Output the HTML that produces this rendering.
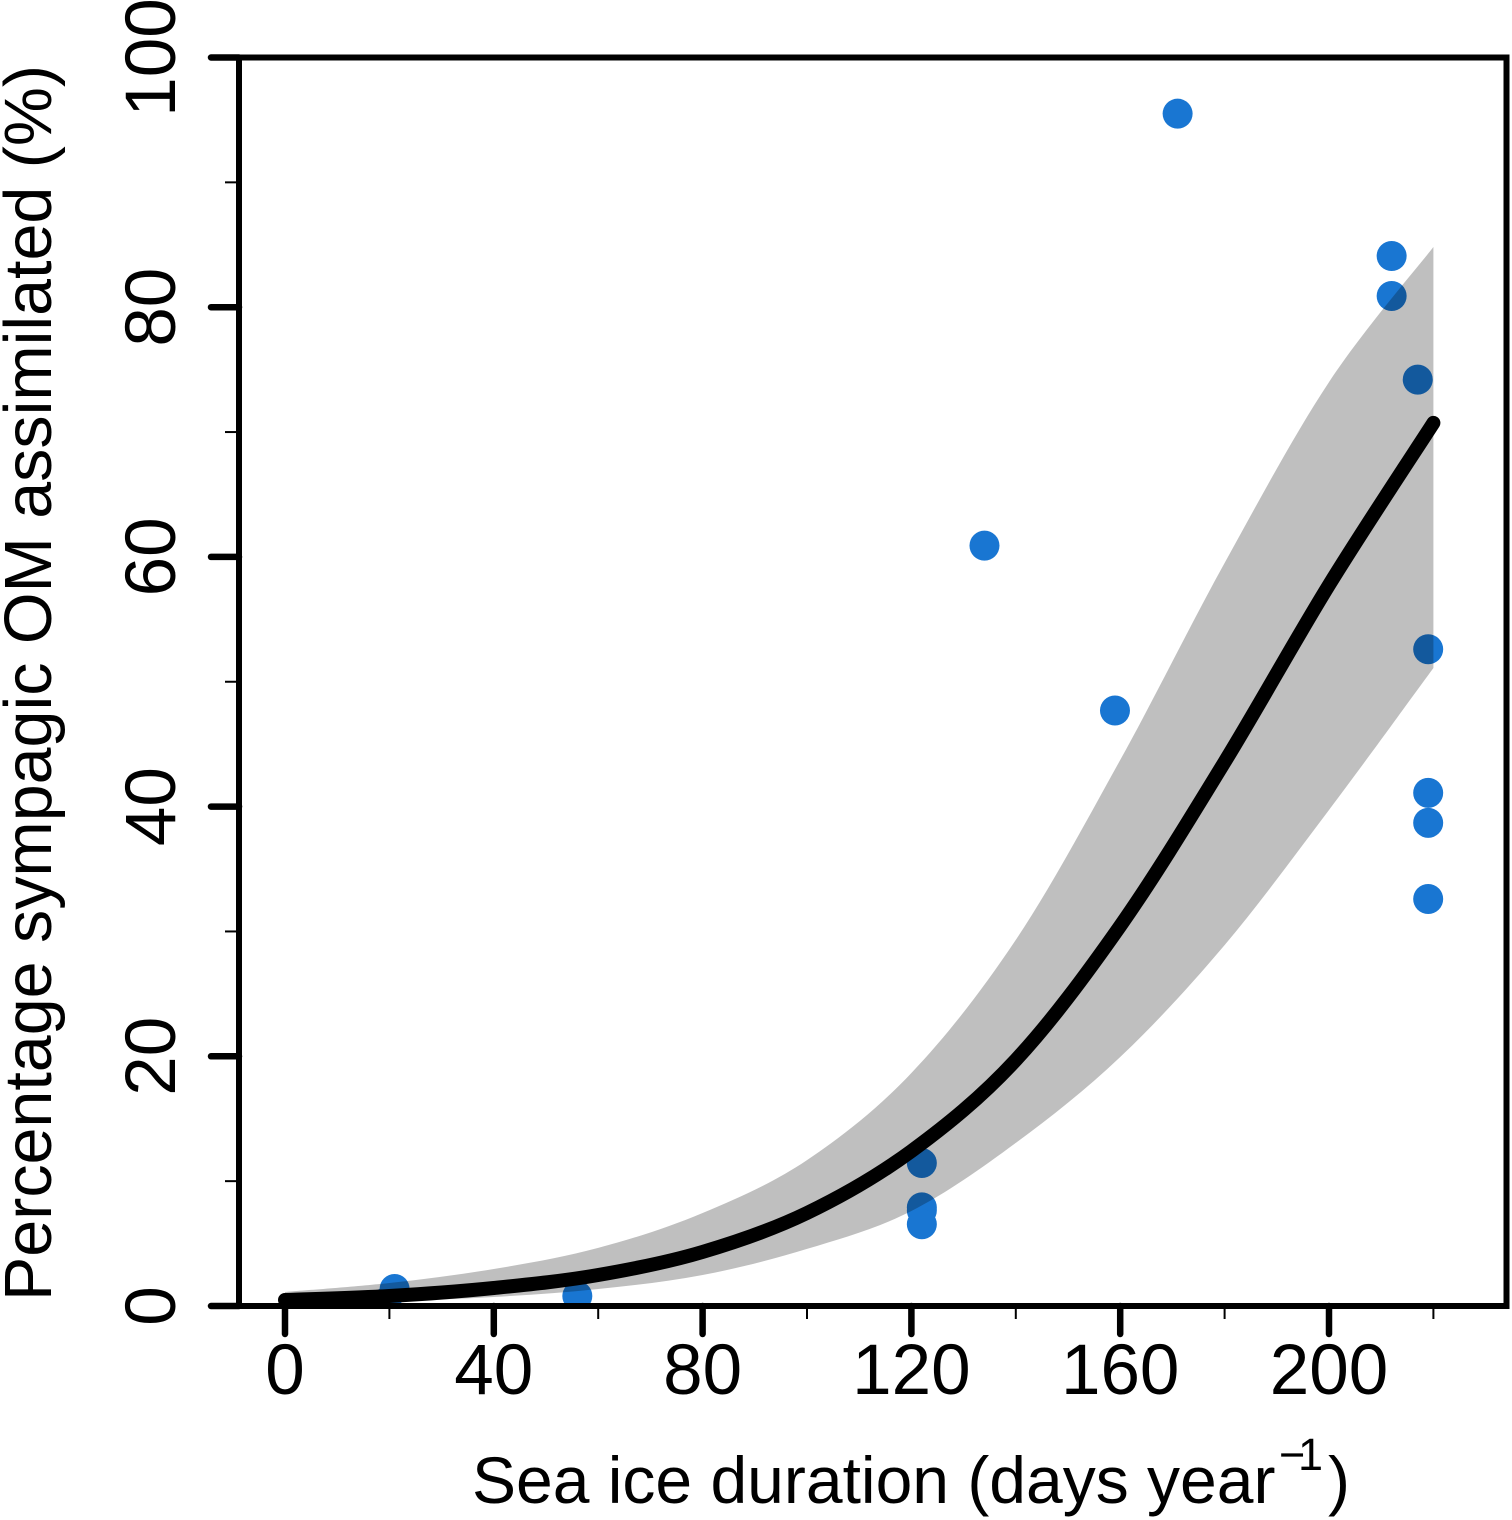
<!DOCTYPE html>
<html lang="en">
<head>
<meta charset="utf-8">
<title>Percentage sympagic OM assimilated vs sea ice duration</title>
<style>
  html, body { margin: 0; padding: 0; background: #fff; }
  body { width: 1512px; height: 1520px; overflow: hidden; }
  svg { display: block; font-family: "Liberation Sans", Arial, sans-serif; fill: #000; }
  .tick-label { font-size: 71px; }
  .axis-title { font-size: 66px; }
</style>
</head>
<body>
<svg id="chart" xmlns="http://www.w3.org/2000/svg" width="1512" height="1520" viewBox="0 0 1512 1520">
  <defs>
    <clipPath id="plot-clip"><rect x="239" y="57" width="1267.5" height="1249"></rect></clipPath>
  </defs>
  <rect x="0" y="0" width="1512" height="1520" fill="#ffffff"></rect>
  <g id="points" clip-path="url(#plot-clip)"></g>
  <g id="band" clip-path="url(#plot-clip)" style="mix-blend-mode:multiply"></g>
  <g id="fit"></g>
  <g id="axes"></g>
  <g id="labels"></g>
  <text class="axis-title" style="font-size:66.4px" transform="translate(51 1301) rotate(-90)">Percentage sympagic OM assimilated (%)</text>
  <text class="axis-title" x="472" y="1503">Sea ice duration (days year<tspan font-size="45" x="1279" y="1470">&#8722;</tspan><tspan font-size="45" x="1298" y="1470">1</tspan><tspan x="1328" y="1503">)</tspan></text>
</svg>
<script>
// Chart data
const pointDays = [19.4, 21, 56, 122, 122, 122, 122, 134, 159, 171, 212, 212, 217, 219, 219, 219, 219];
const pointPercent = [0.3, 1.36, 0.8, 11.45, 7.9, 7.65, 6.55, 60.9, 47.7, 95.5, 84.1, 80.9, 74.2, 52.6, 41.1, 38.7, 32.6];
const curveDays = [0, 20, 40, 60, 80, 100, 120, 140, 160, 180, 200, 220];
const fitValues = [0.48, 0.80, 1.44, 2.48, 4.33, 7.45, 12.41, 19.70, 30.44, 43.57, 57.75, 70.73];
const upperValues = [1.12, 1.84, 2.96, 4.65, 7.45, 11.69, 18.66, 29.32, 43.73, 59.51, 74.00, 84.82];
const lowerValues = [0.24, 0.40, 0.72, 1.36, 2.48, 4.57, 7.61, 13.06, 19.94, 28.91, 39.73, 51.10];
const xMajorTicks = [0, 40, 80, 120, 160, 200];
const xMinorTicks = [20, 60, 100, 140, 180, 220];
const yMajorTicks = [0, 20, 40, 60, 80, 100];
const yMinorTicks = [10, 30, 50, 70, 90];

const NS = 'http://www.w3.org/2000/svg';
function sx(v) { return 285 + v * 5.22; }
function sy(v) { return 1306 - v * 12.485; }
function make(tag, parent, attrs) {
  const el = document.createElementNS(NS, tag);
  for (const k in attrs) el.setAttribute(k, attrs[k]);
  parent.appendChild(el);
  return el;
}
// Smooth segment commands through a list of [x, y]
function smooth(pts) {
  let d = '';
  for (let i = 0; i < pts.length - 1; i++) {
    const p0 = pts[Math.max(i - 1, 0)], p1 = pts[i], p2 = pts[i + 1], p3 = pts[Math.min(i + 2, pts.length - 1)];
    const c1x = p1[0] + (p2[0] - p0[0]) / 6, c1y = p1[1] + (p2[1] - p0[1]) / 6;
    const c2x = p2[0] - (p3[0] - p1[0]) / 6, c2y = p2[1] - (p3[1] - p1[1]) / 6;
    d += 'C' + c1x.toFixed(1) + ' ' + c1y.toFixed(1) + ' ' + c2x.toFixed(1) + ' ' + c2y.toFixed(1) + ' ' + p2[0].toFixed(1) + ' ' + p2[1].toFixed(1);
  }
  return d;
}
function curve(values) { return curveDays.map(function (x, i) { return [sx(x), sy(values[i])]; }); }

// Points
const pointsG = document.getElementById('points');
pointDays.forEach(function (x, i) {
  const c = make('circle', pointsG, { cx: sx(x), cy: sy(pointPercent[i]), r: 15, fill: '#1976d2' });
  
  
});

// Confidence band
const up = curve(upperValues);
const lowRev = curve(lowerValues).reverse();
const bandPath = make('path', document.getElementById('band'), {
  d: 'M' + up[0][0] + ' ' + up[0][1] + smooth(up) + 'L' + lowRev[0][0] + ' ' + lowRev[0][1] + smooth(lowRev) + 'Z',
  fill: '#bfbfbf'
});



// Fit line
const fitPts = curve(fitValues);
const fitPath = make('path', document.getElementById('fit'), {
  d: 'M' + fitPts[0][0] + ' ' + fitPts[0][1] + smooth(fitPts),
  fill: 'none', stroke: '#000', 'stroke-width': 14, 'stroke-linecap': 'round'
});



// Axes
const axesG = document.getElementById('axes');
const labelsG = document.getElementById('labels');
const box = make('rect', axesG, { x: 239, y: 57.5, width: 1267.5, height: 1248.5, fill: 'none', stroke: '#000', 'stroke-width': 6 });



xMajorTicks.forEach(function (v) {
  const t = make('line', axesG, { x1: sx(v), x2: sx(v), y1: 1306, y2: 1334, stroke: '#000', 'stroke-width': 6.5, 'stroke-linecap': 'round' });
  
  
  const l = make('text', labelsG, { x: sx(v), y: 1394, 'text-anchor': 'middle', class: 'tick-label' });
  
  
  l.textContent = String(v);
});
xMinorTicks.forEach(function (v) {
  const t = make('line', axesG, { x1: sx(v), x2: sx(v), y1: 1306, y2: 1319, stroke: '#000', 'stroke-width': 2 });
  
  
});
yMajorTicks.forEach(function (v) {
  const t = make('line', axesG, { x1: 211, x2: 239, y1: sy(v), y2: sy(v), stroke: '#000', 'stroke-width': 6.5, 'stroke-linecap': 'round' });
  
  
  const l = make('text', labelsG, { transform: 'translate(175 ' + sy(v) + ') rotate(-90)', 'text-anchor': 'middle', class: 'tick-label' });
  
  
  l.textContent = String(v);
});
yMinorTicks.forEach(function (v) {
  const t = make('line', axesG, { x1: 225, x2: 239, y1: sy(v), y2: sy(v), stroke: '#000', 'stroke-width': 2 });
  
  
});
</script>
</body>
</html>
